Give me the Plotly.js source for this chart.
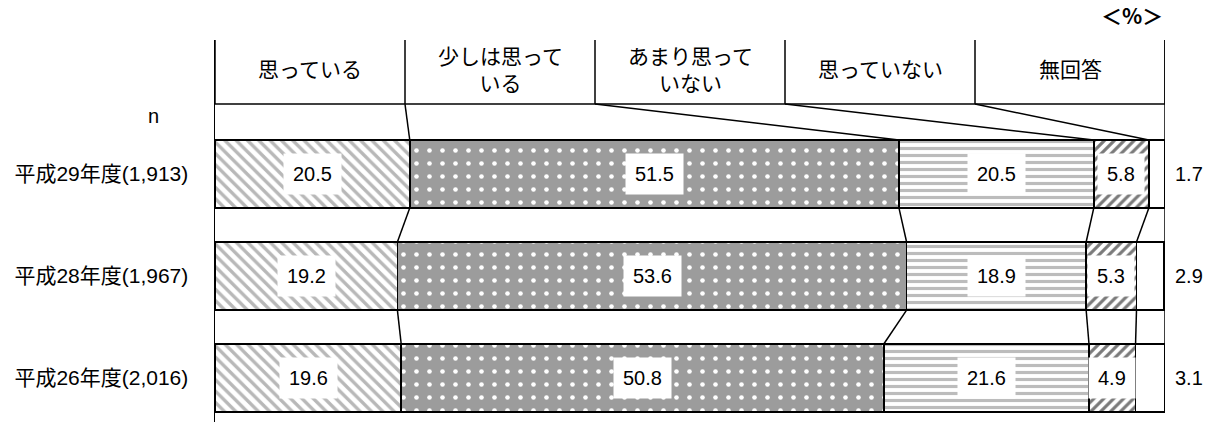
<!DOCTYPE html>
<html>
<head>
<meta charset="utf-8">
<script src="https://cdn.plot.ly/plotly-3.0.1.min.js"></script>
<style>
  body { margin: 0; background: #fff; }
  #chart { width: 1206px; height: 422px; }
</style>
</head>
<body>
<div id="chart"></div>
<script>
// survey rows (top to bottom)
var years = ['平成29年度(1,913)', '平成28年度(1,967)', '平成26年度(2,016)'];
var categories = ['思っている', '少しは思って<br>いる', 'あまり思って<br>いない', '思っていない', '無回答'];

// percent per answer, one array per answer
var omou      = [20.5, 19.2, 19.6];
var sukoshi   = [51.5, 53.6, 50.8];
var amari     = [20.5, 18.9, 21.6];
var omowanai  = [5.8, 5.3, 4.9];
var mukaitou  = [1.7, 2.9, 3.1];

var series = [omou, sukoshi, amari, omowanai, mukaitou];

// pattern for each answer
var patterns = [
  {shape: '\\', fgcolor: '#b8b8b8', bgcolor: '#ffffff', size: 8, solidity: 0.42},
  {shape: '.', fgcolor: '#ffffff', bgcolor: '#9c9c9c', size: 13, solidity: 0.1},
  {shape: '-', fgcolor: '#bcbcbc', bgcolor: '#ffffff', size: 7, solidity: 0.45},
  {shape: '/', fgcolor: '#7a7a7a', bgcolor: '#ffffff', size: 7, solidity: 0.45},
  {shape: '', fgcolor: '#ffffff', bgcolor: '#ffffff', size: 8, solidity: 0.3}
];

var rows = [0, 1, 2];
var barW = 0.667;
var headTop = -1.314, headBot = -0.686;
var FONT = 'Liberation Sans, Arial, Noto Sans CJK JP, sans-serif';

var traces = series.map(function (vals, k) {
  return {
    type: 'bar',
    orientation: 'h',
    x: vals,
    y: rows,
    width: barW,
    name: categories[k],
    hoverinfo: 'skip',
    showlegend: false,
    marker: {
      color: '#ffffff',
      line: {color: '#000000', width: 1.5},
      pattern: Object.assign({fillmode: 'replace'}, patterns[k])
    }
  };
});

// cumulative boundaries per row
var cum = rows.map(function (r) {
  var acc = 0, out = [];
  series.forEach(function (s) { acc += s[r]; out.push(acc); });
  return out;
});

var shapes = [];
var blk = {color: '#000000', width: 1.5};

// header box
for (var k = 0; k <= 5; k++) {
  shapes.push({type: 'line', xref: 'x', yref: 'y', x0: k * 20, x1: k * 20, y0: headTop, y1: headBot, line: blk});
}
shapes.push({type: 'line', xref: 'x', yref: 'y', x0: 0, x1: 100, y0: headBot, y1: headBot, line: blk});
// right border
shapes.push({type: 'line', xref: 'x', yref: 'y', x0: 100, x1: 100, y0: headTop, y1: 2 + barW / 2, line: blk});

// connectors header -> first bar
for (var k = 1; k <= 4; k++) {
  shapes.push({type: 'line', xref: 'x', yref: 'y', x0: k * 20, x1: cum[0][k - 1], y0: headBot, y1: -barW / 2, line: blk});
}
// connectors between bars
for (var r = 0; r < rows.length - 1; r++) {
  for (var k = 0; k < 4; k++) {
    shapes.push({type: 'line', xref: 'x', yref: 'y', x0: cum[r][k], x1: cum[r + 1][k], y0: r + barW / 2, y1: r + 1 - barW / 2, line: blk});
  }
}

var annotations = [];
// header text
categories.forEach(function (c, k) {
  annotations.push({xref: 'x', yref: 'y', x: k * 20 + 10, y: -1.02, text: c, showarrow: false,
    font: {family: FONT, size: 21, color: '#000'}});
});
// value labels
rows.forEach(function (r) {
  series.forEach(function (s, k) {
    var start = k === 0 ? 0 : cum[r][k - 1];
    if (k < 4) {
      annotations.push({xref: 'x', yref: 'y', x: start + s[r] / 2, y: r, text: s[r].toFixed(1),
        showarrow: false, bgcolor: '#ffffff', borderpad: 9,
        font: {family: FONT, size: 20, color: '#000'}});
    } else {
      annotations.push({xref: 'x', yref: 'y', x: 100, y: r, xanchor: 'left', xshift: 8,
        text: s[r].toFixed(1), showarrow: false,
        font: {family: FONT, size: 20, color: '#000'}});
    }
  });
});
annotations.push({xref: 'paper', yref: 'paper', x: -0.065, y: 0.801, xanchor: 'center', yanchor: 'middle',
  text: 'n', showarrow: false, font: {family: FONT, size: 20, color: '#000'}});
annotations.push({xref: 'paper', yref: 'paper', x: 1.0, y: 1.065, xanchor: 'right', yanchor: 'middle',
  text: '<b>＜%＞</b>', showarrow: false,
  font: {family: 'Noto Sans CJK JP, sans-serif', size: 21, color: '#000'}});

var layout = {
  width: 1206,
  height: 422,
  margin: {l: 215, r: 41, t: 40, b: 0},
  paper_bgcolor: '#ffffff',
  plot_bgcolor: '#ffffff',
  barmode: 'stack',
  bargap: 0,
  xaxis: {range: [0, 100], visible: false, fixedrange: true},
  yaxis: {
    range: [2.431, headTop],
    tickvals: rows,
    ticktext: years,
    showline: true,
    linecolor: '#000000',
    linewidth: 1.5,
    showgrid: false,
    zeroline: false,
    ticks: '',
    ticklabelstandoff: 21,
    tickfont: {family: FONT, size: 21, color: '#000'},
    fixedrange: true
  },
  shapes: shapes,
  annotations: annotations
};

Plotly.newPlot('chart', traces, layout, {displayModeBar: false, staticPlot: true});
</script>
</body>
</html>
